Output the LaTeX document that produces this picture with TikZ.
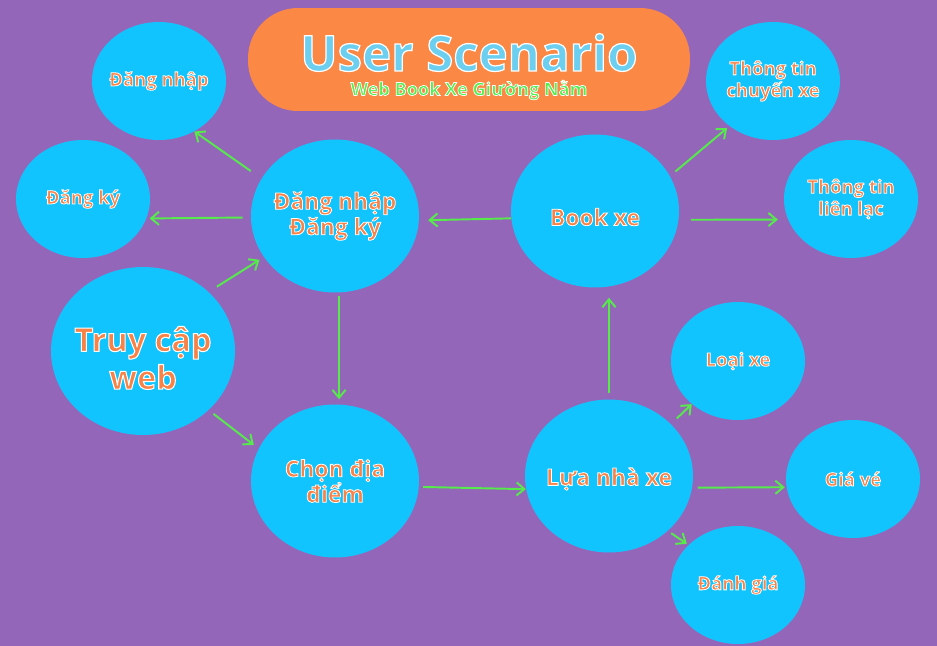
\documentclass[tikz,border=0pt]{standalone}
\usepackage{fontspec}
\setmainfont{Open Sans}
\usetikzlibrary{shapes.geometric,arrows.meta}

\definecolor{bgpurple}{RGB}{148,102,185}
\definecolor{bubble}{RGB}{18,196,253}
\definecolor{orangeT}{RGB}{249,130,70}
\definecolor{pillorange}{RGB}{251,136,69}
\definecolor{arrowgreen}{RGB}{85,235,75}
\definecolor{titleblue}{RGB}{108,207,240}
\definecolor{subgreen}{RGB}{80,240,80}

% white rim round the letters (fill + stroke render mode)
\newcommand{\wt}[2][0.45]{\special{pdf:literal direct 2 Tr 1 1 1 RG #1 w}#2\special{pdf:literal direct 0 Tr}}

\tikzset{
	bub/.style={ellipse,fill=bubble,inner sep=0pt},
	smallbub/.style={bub,minimum width=2.68cm,minimum height=2.36cm},
	bigbub/.style={bub,minimum width=3.36cm,minimum height=3.06cm},
	txt/.style={text=orangeT,font=\bfseries\fontsize{10.5}{12.5}\selectfont,align=center,inner sep=0pt},
	bigtxt/.style={txt,font=\bfseries\fontsize{13}{14.5}\selectfont},
	arr/.style={draw=arrowgreen,line width=1.1pt,-{Straight Barb[length=4.5pt,width=7.5pt]}},
}

\begin{document}
\begin{tikzpicture}[x=0.02cm,y=-0.02cm]
	\fill[bgpurple] (0,0) rectangle (937,646);
	\useasboundingbox (0,0) rectangle (937,646);

% title
\node[rectangle,fill=pillorange,rounded corners=1cm,minimum width=8.84cm,minimum height=2.06cm,inner sep=0pt] (banner) at (469,59.5) {};
\node[inner sep=0pt,text=titleblue,font=\bfseries\fontsize{28}{30}\selectfont] (ttl) at (469,52.5) {\wt[0.7]{User Scenario}};
\node[inner sep=0pt,text=subgreen,font=\bfseries\fontsize{10.3}{12}\selectfont] (sub) at (469,90) {\wt[0.4]{Web Book Xe Giường Nằm}};

% bubbles
\node[smallbub,label={[txt]center:\wt{Đăng nhập}}] (dnhap) at (159,81) {};
\node[smallbub,label={[txt]center:\wt{Đăng ký}}] (dky) at (83,199) {};
\node[bub,minimum width=3.68cm,minimum height=3.36cm,label={[txt,yshift=-0.14cm,font=\bfseries\fontsize{18.5}{21.5}\selectfont]center:\wt[0.6]{Truy cập}\\\wt[0.6]{web}}] (truy) at (143,351) {};
\node[bigbub,label={[bigtxt]center:\wt{Đăng nhập}\\\wt{Đăng ký}}] (dndk) at (335,216) {};
\node[bigbub,label={[bigtxt]center:\wt{Chọn địa}\\\wt{điểm}}] (chon) at (335,481) {};
\node[bigbub,label={[bigtxt,yshift=-0.12cm]center:\wt{Book xe}}] (book) at (595,211) {};
\node[smallbub,label={[txt]center:\wt{Thông tin}\\\wt{chuyến xe}}] (ttcx) at (773,81) {};
\node[smallbub,label={[txt]center:\wt{Thông tin}\\\wt{liên lạc}}] (ttll) at (851,199) {};
\node[bigbub,label={[bigtxt,yshift=-0.06cm]center:\wt{Lựa nhà xe}}] (lua) at (609,476) {};
\node[smallbub,label={[txt]center:\wt{Loại xe}}] (loai) at (738,361) {};
\node[smallbub,label={[txt]center:\wt{Giá vé}}] (gia) at (853,479) {};
\node[smallbub,label={[txt]center:\wt{Đánh giá}}] (danh) at (738,585) {};

% arrows
\draw[arr,shorten <=0.26cm] (dndk.153) -- (dnhap.-55);
\draw[arr,shorten <=0.16cm,shorten >=0.06cm] (dndk.181) -- (dky.-17);
\draw[arr,shorten <=0.19cm,shorten >=0.1cm] (truy.42) -- (dndk.210);
\draw[arr,shorten <=0.12cm,shorten >=0.12cm] (truy.-42) -- (chon.157);
\draw[arr,shorten <=0.07cm,shorten >=0.1cm] (dndk.-87) -- (chon.87); % down
\draw[arr,shorten <=0.08cm] (chon.-4) -- (lua.189);
\draw[arr,shorten <=0.13cm,shorten >=0.2cm] (lua.north) -- (lua.north |- book.south); % up
\draw[arr,shorten >=0.18cm] (book.185) -- (dndk.-3);
\draw[arr,shorten <=0.14cm,shorten >=0.06cm] (book.25) -- (ttcx.226);
\draw[arr,shorten <=0.24cm,shorten >=0.2cm] (book.-6) -- (ttll.198);
\draw[arr,shorten <=0.16cm] (lua.40) -- (loai.223);
\draw[arr,shorten <=0.11cm,shorten >=0.03cm] (lua.-8) -- (gia.187);
\draw[arr,shorten <=0.08cm,shorten >=0.04cm] (lua.-43) -- (danh.141);

\end{tikzpicture}
\end{document}
